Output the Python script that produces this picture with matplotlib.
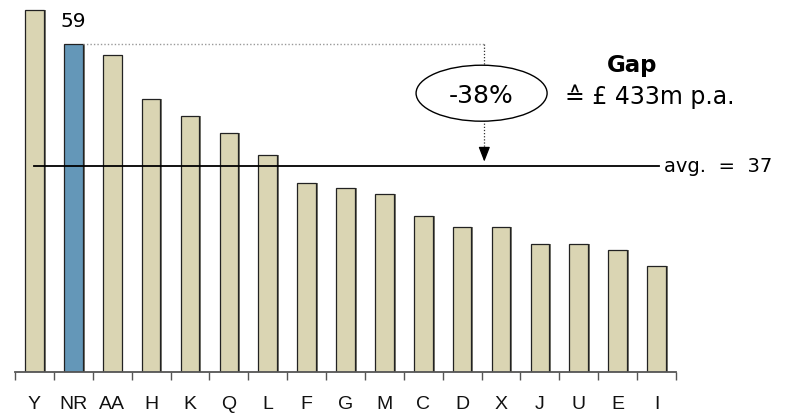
import numpy as np
import matplotlib
matplotlib.use('Agg')
import matplotlib.pyplot as plt
from matplotlib.patches import Ellipse

# Werte je Einheit
labels = ['Y', 'NR', 'AA', 'H', 'K', 'Q', 'L', 'F', 'G', 'M', 'C', 'D', 'X', 'J', 'U', 'E', 'I']
values = [65, 59, 57, 49, 46, 43, 39, 34, 33, 32, 28, 26, 26, 23, 23, 22, 19]
highlight = 'NR'
avg_value = 37
gap_pct = '-38%'
gap_text = '\u2259 \u00a3 433m p.a.'

tan = '#DAD5B3'
blue = '#6497B8'

fig = plt.figure(figsize=(7.93, 4.17), dpi=100)
ax = fig.add_axes([15 / 793, 45 / 417, 661 / 793, 372 / 417])

x = np.arange(len(labels))
colors = [blue if l == highlight else tan for l in labels]

# Schatten rechts neben den Balken
ax.bar(x + 0.05, values, width=0.48, color='#7a7a72', zorder=1)
ax.bar(x, values, width=0.48, color=colors, edgecolor='#222222', linewidth=0.9, zorder=2)

ax.set_xlim(-0.5, len(labels) - 0.5)
ax.set_ylim(0, 66.85)

for s in ['top', 'right', 'left']:
    ax.spines[s].set_visible(False)
ax.spines['bottom'].set_color('#555555')
ax.spines['bottom'].set_linewidth(1.3)
ax.set_yticks([])

ax.set_xticks(x)
ax.set_xticklabels(labels, family=['Liberation Sans', 'DejaVu Sans'], fontsize=14)
ax.set_xticks(np.arange(-0.5, len(labels)), minor=True)
ax.tick_params(axis='x', which='major', length=0, pad=17, colors='#111111')
ax.tick_params(axis='x', which='minor', length=6, width=1.0, color='#555555', direction='out')

# Durchschnittslinie
ax.plot([0, 16.06], [avg_value, avg_value], color='black', lw=1.3, zorder=3)
ax.text(16.19, avg_value, 'avg.  =  37', fontsize=14, va='center', ha='left', clip_on=False)

# Wert über dem hervorgehobenen Balken
i_hl = labels.index(highlight)
ax.text(i_hl, values[i_hl] + 4, str(values[i_hl]), fontsize=14.5, ha='center', va='center')

# Abstand zum Durchschnitt
gx = 11.57
ax.plot([i_hl + 0.25, gx], [values[i_hl], values[i_hl]], color='#999999', lw=1.0,
        linestyle=(0, (1, 1.5)), zorder=3)
ax.plot([gx, gx], [values[i_hl], 55.1], color='#333333', lw=0.9, linestyle=(0, (1, 1.5)), zorder=3)
ax.plot([gx, gx], [45.2, 39.5], color='#333333', lw=0.9, linestyle=(0, (1, 1.5)), zorder=3)
ax.annotate('', xy=(gx, avg_value + 0.3), xytext=(gx, 39.6),
            arrowprops=dict(arrowstyle='-|>,head_width=0.35,head_length=0.9', color='black', lw=0.9))
ax.add_patch(Ellipse((11.5, 50.1), 3.37, 10.06, facecolor='white', edgecolor='black', lw=1.0, zorder=4))
ax.text(11.5, 49.6, gap_pct, fontsize=18, ha='center', va='center', zorder=5)

ax.text(14.73, 53.9, 'Gap', fontsize=16.5, fontweight='bold', ha='left', va='baseline')
ax.text(13.65, 48.2, gap_text, fontsize=17, ha='left', va='baseline', clip_on=False)

fig.savefig('out.png', dpi=100)
